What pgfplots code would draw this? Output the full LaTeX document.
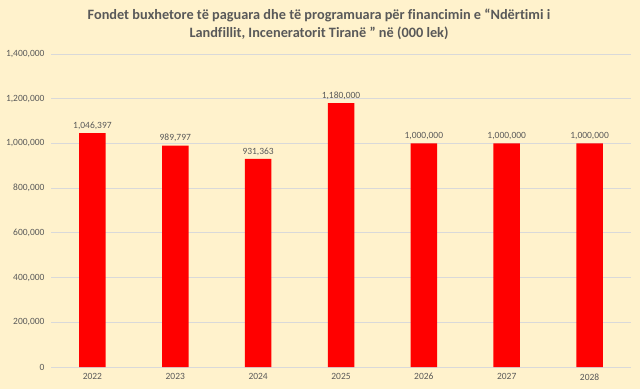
\documentclass[border=0pt]{standalone}
\usepackage{pgfplots}
\pgfplotsset{compat=1.18}
\usepackage{fontspec}
\setmainfont{Carlito}[Ligatures={NoCommon}]
\definecolor{bg}{HTML}{FFF2CC}
\definecolor{txt}{HTML}{595959}
\definecolor{gridc}{HTML}{D9D9D9}
\definecolor{barred}{HTML}{FF0000}
\begin{document}
\begin{tikzpicture}[x=1pt,y=1pt]
\fill[bg] (0,0) rectangle (640,389);
\node[align=center, font=\fontsize{14.3}{18}\selectfont\bfseries, text=txt] at (319,365)
  {Fondet buxhetore të paguara dhe të programuara për financimin e “Ndërtimi i\\Landfillit, Inceneratorit Tiranë ” në (000 lek)};
\begin{axis}[
  at={(51pt,22pt)}, anchor=south west,
  scale only axis, width=580pt, height=313pt,
  xmin=-0.5, xmax=6.5, ymin=0, ymax=1400000,
  ytick distance=200000,
  xtick=data,
  xticklabels={2022,2023,2024,2025,2026,2027,2028},
  scaled y ticks=false,
  /pgf/number format/assume math mode=true,
  /pgf/number format/.cd, fixed, 1000 sep={,},
  /pgfplots/.cd,
  axis line style={draw=none},
  major tick length=0pt,
  ymajorgrids, major grid style={gridc, line width=0.8pt},
  tick label style={font=\fontsize{9.5}{10}\selectfont, text=txt},
  yticklabel style={xshift=-3pt},
  xticklabel style={yshift=-3pt},
  ybar, bar width=26.5pt,
  nodes near coords,
  nodes near coords style={font=\fontsize{9.5}{10}\selectfont, text=txt, /pgf/number format/.cd, fixed, 1000 sep={,}, assume math mode=true},
]
\addplot[fill=barred, draw=none] coordinates {
 (0,1046397) (1,989797) (2,931363) (3,1180000) (4,1000000) (5,1000000) (6,1000000)
};
\end{axis}
\end{tikzpicture}
\end{document}
